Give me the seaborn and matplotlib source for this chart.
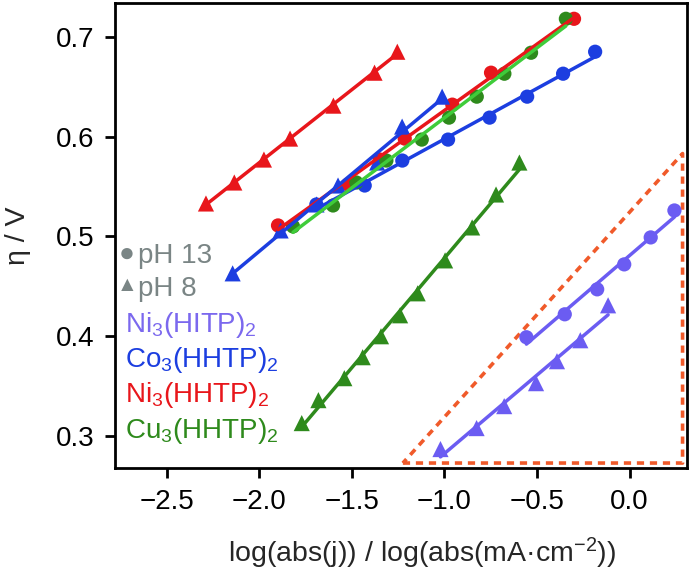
import matplotlib
matplotlib.use("Agg")
import matplotlib.pyplot as plt
import numpy as np
import seaborn as sns

# Ni3(HHTP)2, pH 8 (triangles) and pH 13 (circles)
ni_hhtp_ph8_x = [-2.287, -2.134, -1.974, -1.833, -1.599, -1.377, -1.254]
ni_hhtp_ph8_y = [0.533, 0.554, 0.577, 0.598, 0.631, 0.664, 0.685]
ni_hhtp_ph13_x = [-1.898, -1.520, -1.349, -1.214, -0.957, -0.748, -0.300]
ni_hhtp_ph13_y = [0.511, 0.552, 0.577, 0.598, 0.632, 0.664, 0.718]

# Co3(HHTP)2
co_hhtp_ph8_x = [-2.143, -1.884, -1.690, -1.574, -1.363, -1.228, -1.012]
co_hhtp_ph8_y = [0.463, 0.506, 0.532, 0.551, 0.574, 0.610, 0.640]
co_hhtp_ph13_x = [-1.691, -1.430, -1.227, -0.980, -0.756, -0.553, -0.359, -0.186]
co_hhtp_ph13_y = [0.532, 0.551, 0.576, 0.597, 0.619, 0.640, 0.663, 0.685]

# Cu3(HHTP)2
cu_hhtp_ph8_x = [-1.770, -1.680, -1.540, -1.441, -1.342, -1.239, -1.144,
                 -0.996, -0.850, -0.721, -0.595]
cu_hhtp_ph8_y = [0.313, 0.336, 0.358, 0.379, 0.400, 0.421, 0.443,
                 0.476, 0.509, 0.542, 0.574]
cu_hhtp_ph13_x = [-1.817, -1.601, -1.475, -1.313, -1.122, -0.975, -0.825,
                  -0.676, -0.532, -0.344]
cu_hhtp_ph13_y = [0.510, 0.531, 0.554, 0.576, 0.597, 0.619, 0.640,
                  0.663, 0.684, 0.718]

# Ni3(HITP)2
ni_hitp_ph8_x = [-1.021, -0.826, -0.677, -0.505, -0.392, -0.266, -0.116]
ni_hitp_ph8_y = [0.287, 0.308, 0.330, 0.353, 0.375, 0.396, 0.431]
ni_hitp_ph13_x = [-0.557, -0.350, -0.175, -0.029, 0.114, 0.242]
ni_hitp_ph13_y = [0.399, 0.422, 0.447, 0.472, 0.499, 0.526]

# dashed triangle marking the region
region_x = [-1.224, 0.286, 0.286, -1.224]
region_y = [0.273, 0.273, 0.583, 0.273]

red = "#e8161b"
blue = "#1c3ee0"
green = "#2e8a1c"
light_green = "#3fcc3a"
purple = "#6b5cf2"

sns.set_theme(style="ticks")
plt.rcParams['font.family'] = ['Liberation Sans', 'DejaVu Sans']
plt.rcParams['mathtext.fontset'] = 'custom'
plt.rcParams['mathtext.rm'] = 'Liberation Sans'
plt.rcParams['mathtext.it'] = 'Liberation Sans:italic'

fig = plt.figure(figsize=(6.92, 5.73), dpi=100)
ax = fig.add_axes([0.1662, 0.1832, 0.8266, 0.811])

ax.plot(region_x, region_y, ls=(0, (2.0, 1.6)), lw=2.6, color="#f05a2a", zorder=1)

series = [
    (ni_hhtp_ph8_x, ni_hhtp_ph8_y, red, red, "^"),
    (ni_hhtp_ph13_x, ni_hhtp_ph13_y, red, red, "o"),
    (co_hhtp_ph8_x, co_hhtp_ph8_y, blue, blue, "^"),
    (co_hhtp_ph13_x, co_hhtp_ph13_y, blue, blue, "o"),
    (cu_hhtp_ph8_x, cu_hhtp_ph8_y, green, green, "^"),
    (cu_hhtp_ph13_x, cu_hhtp_ph13_y, green, light_green, "o"),
    (ni_hitp_ph8_x, ni_hitp_ph8_y, purple, purple, "^"),
    (ni_hitp_ph13_x, ni_hitp_ph13_y, purple, purple, "o"),
]

for xs, ys, mcolor, lcolor, marker in series:
    sns.scatterplot(x=xs, y=ys, marker=marker, s=135 if marker == "^" else 105,
                    color=mcolor, edgecolor="none", ax=ax, zorder=2)
    sns.regplot(x=np.array(xs), y=np.array(ys), scatter=False, ci=None,
                truncate=True, color=lcolor, line_kws={'lw': 2.5, 'zorder': 3},
                ax=ax)

ax.set_xlim(-2.778, 0.31)
ax.set_ylim(0.268, 0.7335)
ax.set_xticks([-2.5, -2.0, -1.5, -1.0, -0.5, 0.0])
ax.set_yticks([0.3, 0.4, 0.5, 0.6, 0.7])
ax.tick_params(axis='both', direction='out', length=7, width=2, colors='black',
               labelsize=20, pad=8)
for side in ['left', 'right', 'top', 'bottom']:
    ax.spines[side].set_visible(True)
    ax.spines[side].set_linewidth(2)
    ax.spines[side].set_color('black')

ax.set_xlabel(r"log(abs(j)) / log(abs(mA·cm$^{-2}$))", fontsize=20.5, labelpad=12)
ax.xaxis.set_label_coords(0.537, -0.145)
ax.set_ylabel("η / V", fontsize=20.5, labelpad=18)

# legend made of coloured text
gray = "#7a8585"
ax.text(0.0205, 0.461, "●", color=gray, fontsize=19, ha='center', va='center',
        transform=ax.transAxes)
ax.text(0.0402, 0.441, "pH 13", color=gray, fontsize=20, transform=ax.transAxes)
ax.text(0.0205, 0.392, "▲", color=gray, fontsize=15, ha='center', va='center',
        transform=ax.transAxes)
ax.text(0.0402, 0.370, "pH 8", color=gray, fontsize=20, transform=ax.transAxes)

labels = [r"Ni$_3$(HITP)$_2$", r"Co$_3$(HHTP)$_2$", r"Ni$_3$(HHTP)$_2$", r"Cu$_3$(HHTP)$_2$"]
label_colors = ["#7b68ee", blue, red, green]
label_y = [0.2927, 0.2173, 0.142, 0.0646]
for lab, col, yy in zip(labels, label_colors, label_y):
    ax.text(0.0175, yy, lab, color=col, fontsize=20, transform=ax.transAxes)

fig.savefig("out.png", dpi=100)
